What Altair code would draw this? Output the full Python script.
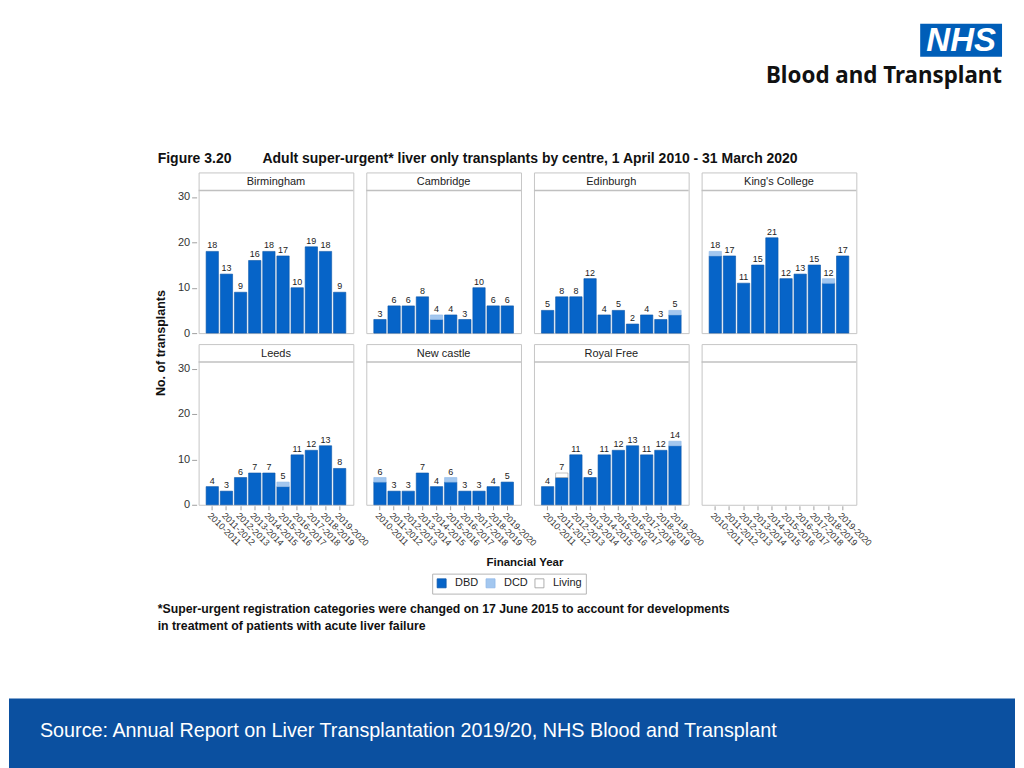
import altair as alt
import pandas as pd

FONT = "Liberation Sans"

years = ["2010-2011", "2011-2012", "2012-2013", "2013-2014", "2014-2015",
         "2015-2016", "2016-2017", "2017-2018", "2018-2019", "2019-2020"]
centres = ["Birmingham", "Cambridge", "Edinburgh", "King's College",
           "Leeds", "New castle", "Royal Free"]
types = ["DBD", "DCD", "Living"]

dbd_birmingham = [18, 13, 9, 16, 18, 17, 10, 19, 18, 9]
dbd_cambridge = [3, 6, 6, 8, 3, 4, 3, 10, 6, 6]
dbd_edinburgh = [5, 8, 8, 12, 4, 5, 2, 4, 3, 4]
dbd_kings = [17, 17, 11, 15, 21, 12, 13, 15, 11, 17]
dbd_leeds = [4, 3, 6, 7, 7, 4, 11, 12, 13, 8]
dbd_newcastle = [5, 3, 3, 7, 4, 5, 3, 3, 4, 5]
dbd_royalfree = [4, 6, 11, 6, 11, 12, 13, 11, 12, 13]

dcd_birmingham = [0, 0, 0, 0, 0, 0, 0, 0, 0, 0]
dcd_cambridge = [0, 0, 0, 0, 1, 0, 0, 0, 0, 0]
dcd_edinburgh = [0, 0, 0, 0, 0, 0, 0, 0, 0, 1]
dcd_kings = [1, 0, 0, 0, 0, 0, 0, 0, 1, 0]
dcd_leeds = [0, 0, 0, 0, 0, 1, 0, 0, 0, 0]
dcd_newcastle = [1, 0, 0, 0, 0, 1, 0, 0, 0, 0]
dcd_royalfree = [0, 0, 0, 0, 0, 0, 0, 0, 0, 1]

living_royalfree = [0, 1, 0, 0, 0, 0, 0, 0, 0, 0]
zeros = [0] * 10

series = {
    "Birmingham": (dbd_birmingham, dcd_birmingham, zeros),
    "Cambridge": (dbd_cambridge, dcd_cambridge, zeros),
    "Edinburgh": (dbd_edinburgh, dcd_edinburgh, zeros),
    "King's College": (dbd_kings, dcd_kings, zeros),
    "Leeds": (dbd_leeds, dcd_leeds, zeros),
    "New castle": (dbd_newcastle, dcd_newcastle, zeros),
    "Royal Free": (dbd_royalfree, dcd_royalfree, living_royalfree),
}

NCOL = 4
rows = []
for i, c in enumerate(centres):
    for t_i, vals in enumerate(series[c]):
        for y, v in zip(years, vals):
            rows.append({"centre": c, "year": y, "type": types[t_i], "ord": t_i, "n": v,
                         "r": i // NCOL, "c": i % NCOL})
# empty eighth panel of the 2 x 4 grid
rows.append({"centre": " ", "year": years[0], "type": "DBD", "ord": 0, "n": 0, "r": 1, "c": 3})
df = pd.DataFrame(rows)

fills = ["#0664c8", "#a3c7ef", "#ffffff"]
strokes = ["#0a56aa", "#8fb8e8", "#9a9a9a"]

W, H, HDR, YMAX = 155, 161, 18, 35.4

legend = alt.Legend(title=None, orient="none", legendX=424, legendY=565,
                    direction="horizontal", symbolType="square", symbolSize=81,
                    symbolStrokeWidth=0.8, labelFontSize=11, labelFont=FONT,
                    labelColor="#222", labelOffset=8, columnPadding=5,
                    padding=4, strokeColor="#b5b5b5")

hdr_rule = alt.Chart().transform_aggregate(
    k="count()", groupby=["centre"]
).mark_rule(color="#c0c0c0", strokeWidth=1.5).encode(
    x=alt.value(0), x2=alt.value(W), y=alt.value(HDR)
)
hdr_text = alt.Chart().transform_aggregate(
    k="count()", groupby=["centre"]
).mark_text(font=FONT, fontSize=11, color="#222").encode(
    x=alt.value(W / 2), y=alt.value(HDR / 2 + 0.5), text="centre:N"
)
bars = alt.Chart().transform_filter("datum.n > 0").mark_bar(strokeWidth=0.6).encode(
    x=alt.X("year:O", sort=years,
            scale=alt.Scale(domain=years, paddingInner=0.13, paddingOuter=0.53),
            axis=alt.Axis(title=None, labelAngle=45)),
    y=alt.Y("sum(n):Q", stack="zero",
            scale=alt.Scale(domain=[0, YMAX], nice=False, zero=True),
            axis=alt.Axis(title=None, values=[0, 10, 20, 30])),
    color=alt.Color("type:N", scale=alt.Scale(domain=types, range=fills), legend=legend),
    stroke=alt.Stroke("type:N", scale=alt.Scale(domain=types, range=strokes), legend=legend),
    order=alt.Order("ord:Q", sort="ascending"),
)
labels = alt.Chart().transform_aggregate(
    total="sum(n)", groupby=["centre", "year"]
).transform_filter("datum.total > 0").mark_text(
    font=FONT, fontSize=9, color="#222", dy=-6
).encode(
    x=alt.X("year:O", sort=years),
    y=alt.Y("total:Q"),
    text="total:Q",
)

panel = alt.layer(hdr_rule, hdr_text, bars, labels, data=df).properties(width=W, height=H)
noheader = alt.Header(labels=False, title=None, labelPadding=0, titlePadding=0)
grid = panel.facet(
    row=alt.Row("r:O", header=noheader),
    column=alt.Column("c:O", header=noheader),
    spacing={"row": 9, "column": 9},
).properties(
    title=alt.TitleParams("Financial Year", orient="bottom", anchor="middle",
                          fontSize=11.5, font=FONT, fontWeight="bold",
                          color="#111", offset=10)
)

one = pd.DataFrame({"k": [0]})
noview = alt.ViewBackground(stroke="transparent")


def txt(text, x, y, size, bold=True, align="left", color="#111", font=FONT, italic=False, angle=0):
    kw = dict(text=text, font=font, fontSize=size, align=align, baseline="middle", color=color)
    if bold:
        kw["fontWeight"] = "bold"
    if italic:
        kw["fontStyle"] = "italic"
    if angle:
        kw["angle"] = angle
    return alt.Chart(one).mark_text(**kw).encode(x=alt.value(x), y=alt.value(y))


nhs_box = alt.Chart(one).mark_rect(color="#005eb8").encode(
    x=alt.value(913), x2=alt.value(995), y=alt.value(14), y2=alt.value(47)
)
banner = alt.layer(
    nhs_box,
    txt("NHS", 954, 31, 33, italic=True, align="center", color="white"),
    txt("Blood and Transplant", 995, 66, 22.4, align="right", font="Noto Sans"),
    txt("Figure 3.20", 149, 150, 14),
    txt("Adult super-urgent* liver only transplants by centre, 1 April 2010 - 31 March 2020", 254, 150, 14),
).properties(width=1008, height=161, view=noview)

ytitle = txt("No. of transplants", 152, 171, 12.5, align="center", angle=270).properties(
    width=167, height=398, view=noview)

footer_rect = alt.Chart(one).mark_rect(color="#0b50a0").encode(
    x=alt.value(0), x2=alt.value(1008), y=alt.value(127), y2=alt.value(201)
)
bottom = alt.layer(
    txt("*Super-urgent registration categories were changed on 17 June 2015 to account for developments", 149, 37, 12.3),
    txt("in treatment of patients with acute liver failure", 149, 54, 12.3),
    footer_rect,
    txt("Source: Annual Report on Liver Transplantation 2019/20, NHS Blood and Transplant", 31, 160, 19.8,
        bold=False, color="white"),
).properties(width=1008, height=201, view=noview)

chart = alt.vconcat(
    banner,
    alt.hconcat(ytitle, grid, spacing=0),
    bottom,
    spacing=0,
).properties(padding=0).configure(font=FONT).configure_view(
    stroke="#c6c6c6", strokeWidth=1
).configure_axis(
    grid=False, domain=False, labelFont=FONT, labelColor="#333", tickColor="#a0a0a0"
).configure_axisY(
    labelFontSize=11, tickSize=5, labelPadding=2
).configure_axisX(
    labelFontSize=9, tickSize=4, labelPadding=1
)

chart.save("out.html", embed_options={"renderer": "svg", "actions": False})
